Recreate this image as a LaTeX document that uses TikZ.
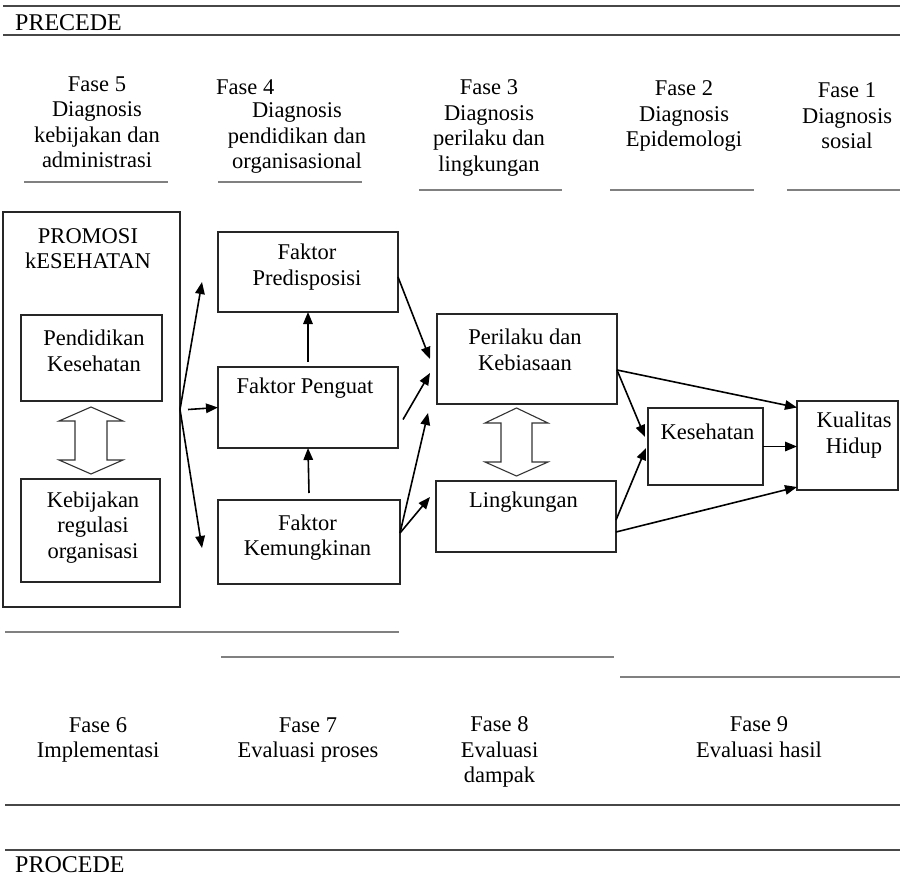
\documentclass[tikz,border=0pt]{standalone}
\usepackage{fontspec}
\setmainfont{Liberation Serif}
\usetikzlibrary{arrows.meta,calc}
\begin{document}
\begin{tikzpicture}[x=1pt,y=-1pt,
  txt/.style={font=\fontsize{22.5}{25.5}\selectfont, align=center, inner sep=0pt},
  bigtxt/.style={font=\fontsize{24}{28}\selectfont, inner sep=0pt, anchor=west},
  box/.style={draw=black!85, line width=1.4pt, inner sep=0pt, outer sep=0pt},
  rule/.style={draw=black!72, line width=2pt},
  grule/.style={draw=black!50, line width=2.6pt},
  arr/.style={draw=black, line width=1.6pt, -{Triangle[length=12pt,width=9.5pt]}},
  hollow/.style={draw=black!80, line width=1.1pt, fill=white, line join=miter},
]
\useasboundingbox (0,0) rectangle (900,878);

% header / footer rules
\draw[rule] (3,6) -- (900,6);
\draw[rule] (3,35) -- (900,35);
\node[bigtxt] (precede) at (15,23) {PRECEDE};

% phase underlines (top)
\draw[grule] (24,182) -- (168,182);
\draw[grule] (218,182) -- (362,182);
\draw[grule] (419,190) -- (562,190);
\draw[grule] (610,190) -- (754,190);
\draw[grule] (787,190) -- (900,190);

% phase labels (top)
\node[txt] (f5) at (97,122) {Fase 5\\Diagnosis\\kebijakan dan\\administrasi};
\node[txt,anchor=west] (f4a) at (216,87) {Fase 4};
\node[txt] (f4) at (297,138) {Diagnosis\\pendidikan dan\\organisasional};
\node[txt] (f3) at (489,128) {Fase 3\\Diagnosis\\perilaku dan\\lingkungan};
\node[txt] (f2) at (684,116) {Fase 2\\Diagnosis\\Epidemologi};
\node[txt] (f1) at (847,116) {Fase 1\\Diagnosis\\sosial};

% boxes
\node[box, minimum width=177pt, minimum height=395pt] (promo) at (91.5,409.5) {};
\node[box, minimum width=141pt, minimum height=86pt] (pdk) at (91.5,358) {};
\node[box, minimum width=139pt, minimum height=103pt] (keb) at (90.5,530.5) {};
\node[box, minimum width=180pt, minimum height=80pt] (pred) at (308,272) {};
\node[box, minimum width=180pt, minimum height=81pt] (pgt) at (308,407.5) {};
\node[box, minimum width=182pt, minimum height=84pt] (kem) at (309,542) {};
\node[box, minimum width=180pt, minimum height=90pt] (per) at (527,359) {};
\node[box, minimum width=180pt, minimum height=71pt] (ling) at (526,516.5) {};
\node[box, minimum width=115pt, minimum height=77pt] (kes) at (705.5,446.5) {};
\node[box, minimum width=101pt, minimum height=89pt] (kual) at (847.5,445.5) {};

% box texts
\node[txt] (promoT) at (88,248.5) {PROMOSI\\kESEHATAN};
\node[txt] (pdkT) at (94,351) {Pendidikan\\Kesehatan};
\node[txt] (kebT) at (93,527.5) {Kebijakan\\regulasi\\organisasi};
\node[txt] (predT) at (307,267) {Faktor\\Predisposisi};
\node[txt] (pgtT) at (305,388) {Faktor Penguat};
\node[txt] (kemT) at (307.5,537.5) {Faktor\\Kemungkinan};
\node[txt] (perT) at (525,350) {Perilaku dan\\Kebiasaan};
\node[txt] (lingT) at (523.5,502) {Lingkungan};
\node[txt] (kesT) at (707.5,432) {Kesehatan};
\node[txt] (kualT) at (854,435) {Kualitas\\Hidup};

% hollow double arrows
\draw[hollow] (91,407) -- (123,421) -- (107,421) -- (107,460) -- (123,460) -- (91,474)
  -- (59,460) -- (75,460) -- (75,421) -- (59,421) -- cycle;
\draw[hollow] (516.5,408) -- (548,423) -- (532,423) -- (532,462) -- (548,462) -- (516.5,476)
  -- (485,462) -- (501,462) -- (501,423) -- (485,423) -- cycle;

% connectors
\draw[arr] (promo.east) -- ([xshift=-16pt,yshift=-10pt]pred.west);
\draw[arr] ([xshift=8pt]promo.east) -- (pgt.west);
\draw[arr] (promo.east) -- ([xshift=-16pt,yshift=-6pt]kem.west);
\draw[arr] ([yshift=5pt]pgt.north) -- (pred.south);
\draw[arr] ([yshift=7pt]kem.north) -- (pgt.south);
\draw[arr] ([yshift=-5pt]pred.east) -- ([xshift=-7pt]per.west);
\draw[arr] ([xshift=5pt,yshift=-12pt]pgt.east) -- ([xshift=-7pt,yshift=-14pt]per.west);
\draw[arr] ([yshift=9pt]kem.east) -- ([xshift=-9pt,yshift=-9pt]per.south west);
\draw[arr] ([yshift=9pt]kem.east) -- ([xshift=-6pt,yshift=19.5pt]ling.west);
\draw[arr] ([yshift=-11pt]per.east) -- ([yshift=38pt]kual.west);
\draw[arr] ([yshift=-11pt]per.east) -- ([xshift=-3pt,yshift=9.5pt]kes.west);
\draw[arr] ([yshift=-3.5pt]ling.east) -- ([xshift=-2pt,yshift=-1.5pt]kes.west);
\draw[arr] ([yshift=-15.5pt]ling.east) -- ([yshift=-41.5pt]kual.west);
\draw[arr] (kes.east) -- (kes.east -| kual.west);

% bottom phase rules
\draw[grule] (5,632) -- (399,632);
\draw[grule] (221,657) -- (614,657);
\draw[grule] (620,677) -- (900,677);

% bottom phase labels
\node[txt] (f6) at (98,740) {Fase 6\\Implementasi};
\node[txt] (f7) at (308,740) {Fase 7\\Evaluasi proses};
\node[txt] (f8) at (499.5,752) {Fase 8\\Evaluasi\\dampak};
\node[txt] (f9) at (759,737) {Fase 9\\Evaluasi hasil};

\draw[rule] (5,805) -- (900,805);
\draw[rule] (5,850) -- (900,850);
\node[bigtxt] (procede) at (15,865) {PROCEDE};
\end{tikzpicture}
\end{document}
